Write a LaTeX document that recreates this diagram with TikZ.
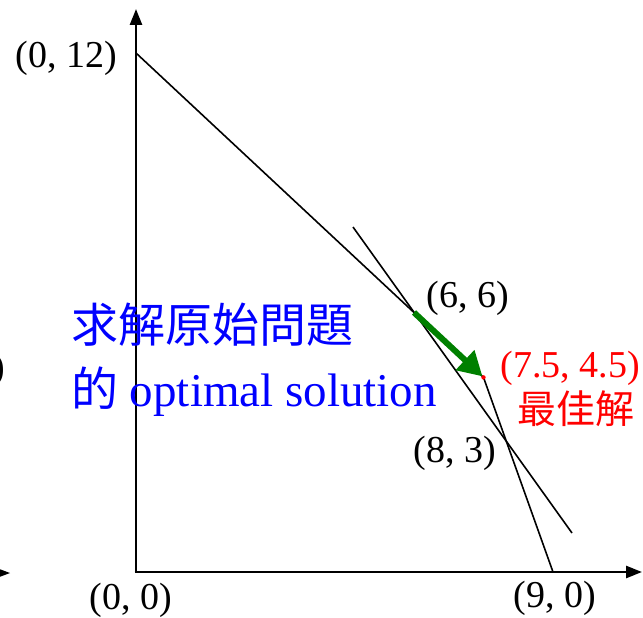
\documentclass[tikz,border=0pt]{standalone}
\usepackage{fontspec}
\setmainfont{Liberation Serif}
\newfontfamily\cjk{Noto Sans CJK TC}
\usetikzlibrary{arrows.meta}
\definecolor{arrowgreen}{RGB}{0,128,0}
\tikzset{
  axis/.style={line width=2.6pt,-{Triangle[length=16pt,width=12pt]}},
  bound/.style={line width=1.6pt},
  lbl/.style={inner sep=0pt,font=\fontsize{38}{40}\selectfont},
  bluetxt/.style={inner sep=0pt,text=blue,font=\fontsize{47}{50}\selectfont,anchor=west},
  redtxt/.style={inner sep=0pt,text=red},
  movearrow/.style={line width=6pt,draw=arrowgreen,-{Triangle[length=24pt,width=26pt]}}
}
\begin{document}
\begin{tikzpicture}[x=1pt,y=-1pt]
\useasboundingbox (0,0) rectangle (643,618);
\clip (0,0) rectangle (643,618);
% coordinates
\coordinate (O) at (136,572);
\coordinate (P012) at (136,53);
\coordinate (P66) at (414,312.5);
\coordinate (P7545) at (483.5,377.4);
\coordinate (P83) at (506.7,442.3);
\coordinate (P90) at (553,572);
\coordinate (B1) at (353,227);
\coordinate (B2) at (572,533);
\coordinate (Ytip) at (136,9);
\coordinate (Xtip) at (642,572);
% axes
\draw[axis] (O) -- (Ytip);
\draw[axis] ([xshift=-1.3pt]O) -- (Xtip);
% constraint lines
\draw[bound,line join=miter] (P012) -- (P7545) -- (P90);
\draw[bound] (B1) -- (B2);
% move arrow
\draw[movearrow] (P66) -- ([shift={(-1,-1)}]P7545);
\fill[red] (P7545) circle (2.2pt);
% labels
\node[lbl] (l012) at (66.5,58) {(0, 12)};
\node[lbl] (l66) at (468,298) {(6, 6)};
\node[lbl] (l83) at (455,453) {(8, 3)};
\node[lbl] (l00) at (131,600) {(0, 0)};
\node[lbl] (l90) at (555,598) {(9, 0)};
\node[lbl,text=red] (l7545) at (570,368) {(7.5, 4.5)};
\node[redtxt,font=\cjk\fontsize{39}{40}\selectfont] (best) at (576,409) {最佳解};
\node[bluetxt,font=\cjk\fontsize{47}{50}\selectfont] (t1) at (71,325) {求解原始問題};
\node[bluetxt] (t2) at (71,392) {{\cjk 的} optimal solution};
% cropped remnants at left edge
\node[lbl,anchor=east] (rparen) at (5,370) {)};
\fill (10,573) -- (-6,567) -- (-6,579) -- cycle;
\end{tikzpicture}
\end{document}
